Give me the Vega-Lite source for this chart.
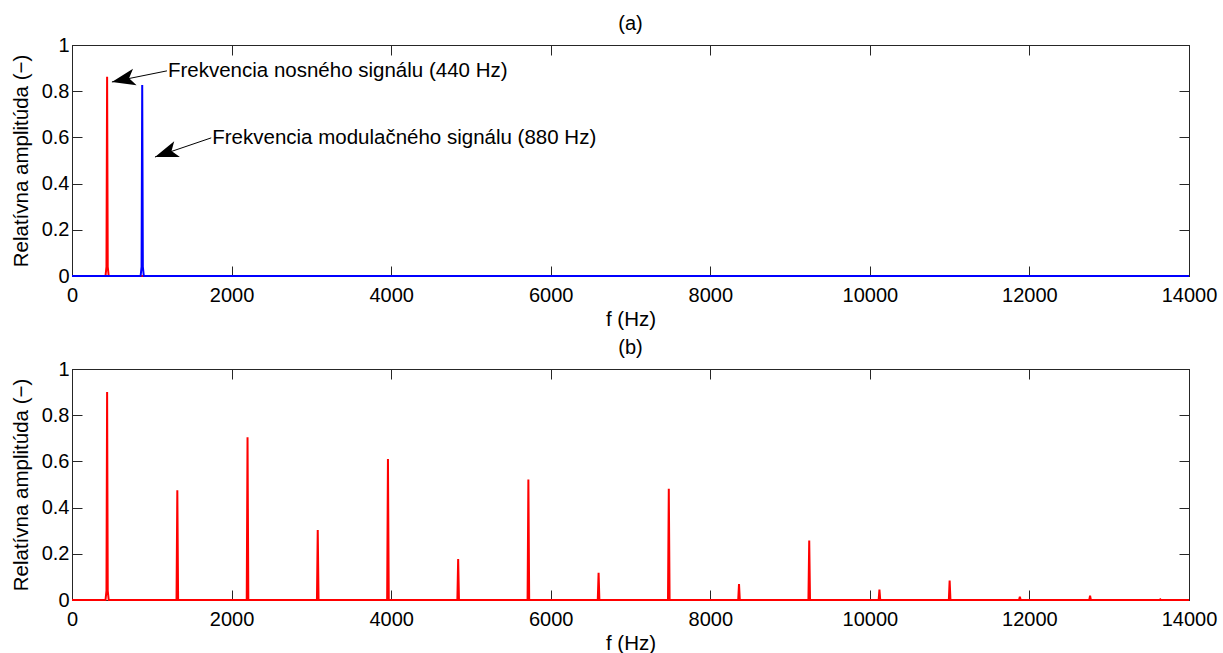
{
  "$schema": "https://vega.github.io/schema/vega-lite/v6.json",
  "padding": {"left": 10, "top": 13, "right": 0, "bottom": 5},
  "bounds": "flush",
  "spacing": 93,
  "config": {
    "font": "Liberation Sans",
    "view": {"stroke": "#262626", "strokeWidth": 1},
    "axis": {
      "labelFont": "Liberation Sans", "labelFontSize": 20, "labelColor": "#000", "labelFlush": false, "labelOverlap": false,
      "titleFont": "Liberation Sans", "titleFontSize": 20.5, "titleFontWeight": "normal", "titleColor": "#000",
      "tickColor": "#262626", "domainColor": "#262626", "tickSize": -10, "grid": false
    },
    "title": {"font": "Liberation Sans", "fontSize": 20, "fontWeight": "normal", "color": "#000", "offset": 1}
  },
  "datasets": {
    "a_red": [
      {"f": 0, "A": 0}, {"f": 420, "A": 0}, {"f": 432, "A": 0.04}, {"f": 440, "A": 0.863},
      {"f": 448, "A": 0.04}, {"f": 460, "A": 0}, {"f": 14000, "A": 0}
    ],
    "a_blue": [
      {"f": 0, "A": 0}, {"f": 860, "A": 0}, {"f": 872, "A": 0.04}, {"f": 880, "A": 0.827},
      {"f": 888, "A": 0.04}, {"f": 900, "A": 0}, {"f": 14000, "A": 0}
    ],
    "ann": [
      {"id": 1, "label": "Frekvencia nosného signálu (440 Hz)", "tx": 1190, "ty": 0.888, "hx": 500, "hy": 0.84},
      {"id": 2, "label": "Frekvencia modulačného signálu (880 Hz)", "tx": 1745, "ty": 0.598, "hx": 1040, "hy": 0.515}
    ],
    "b": [
      {"f": 0, "A": 0},
      {"f": 420, "A": 0}, {"f": 432, "A": 0.04}, {"f": 440, "A": 0.90}, {"f": 448, "A": 0.04}, {"f": 460, "A": 0},
      {"f": 1310, "A": 0}, {"f": 1320, "A": 0.475}, {"f": 1330, "A": 0},
      {"f": 2190, "A": 0}, {"f": 2200, "A": 0.705}, {"f": 2210, "A": 0},
      {"f": 3070, "A": 0}, {"f": 3080, "A": 0.303}, {"f": 3090, "A": 0},
      {"f": 3950, "A": 0}, {"f": 3960, "A": 0.61}, {"f": 3970, "A": 0},
      {"f": 4830, "A": 0}, {"f": 4840, "A": 0.177}, {"f": 4850, "A": 0},
      {"f": 5710, "A": 0}, {"f": 5720, "A": 0.522}, {"f": 5730, "A": 0},
      {"f": 6590, "A": 0}, {"f": 6600, "A": 0.118}, {"f": 6610, "A": 0},
      {"f": 7470, "A": 0}, {"f": 7480, "A": 0.482}, {"f": 7490, "A": 0},
      {"f": 8350, "A": 0}, {"f": 8360, "A": 0.069}, {"f": 8370, "A": 0},
      {"f": 9230, "A": 0}, {"f": 9240, "A": 0.257}, {"f": 9250, "A": 0},
      {"f": 10110, "A": 0}, {"f": 10120, "A": 0.045}, {"f": 10130, "A": 0},
      {"f": 10990, "A": 0}, {"f": 11000, "A": 0.084}, {"f": 11010, "A": 0},
      {"f": 11870, "A": 0}, {"f": 11880, "A": 0.014}, {"f": 11890, "A": 0},
      {"f": 12750, "A": 0}, {"f": 12760, "A": 0.019}, {"f": 12770, "A": 0},
      {"f": 13630, "A": 0}, {"f": 13640, "A": 0.003}, {"f": 13650, "A": 0},
      {"f": 14000, "A": 0}
    ]
  },
  "vconcat": [
    {
      "title": "(a)",
      "width": 1117,
      "height": 231,
      "layer": [
        {
          "data": {"name": "a_red"},
          "mark": {"type": "line", "color": "#ff0000", "strokeWidth": 2},
          "encoding": {
            "x": {"field": "f", "type": "quantitative", "scale": {"domain": [0, 14000]},
                  "axis": {"title": "f (Hz)", "values": [0, 2000, 4000, 6000, 8000, 10000, 12000, 14000], "format": "d", "labelPadding": 19, "titlePadding": 4}},
            "y": {"field": "A", "type": "quantitative", "scale": {"domain": [0, 1]},
                  "axis": {"title": "Relatívna amplitúda (−)", "values": [0, 0.2, 0.4, 0.6, 0.8, 1], "format": "~g", "labelPadding": 13, "titlePadding": 10}}
          }
        },
        {
          "data": {"name": "a_blue"},
          "mark": {"type": "line", "color": "#0000ff", "strokeWidth": 2},
          "encoding": {
            "x": {"field": "f", "type": "quantitative", "scale": {"domain": [0, 14000]},
                  "axis": {"orient": "top", "title": null, "labels": false, "values": [0, 2000, 4000, 6000, 8000, 10000, 12000, 14000]}},
            "y": {"field": "A", "type": "quantitative", "scale": {"domain": [0, 1]},
                  "axis": {"orient": "right", "title": null, "labels": false, "values": [0, 0.2, 0.4, 0.6, 0.8, 1]}}
          }
        },
        {
          "data": {"name": "ann"},
          "mark": {"type": "rule", "color": "#000", "strokeWidth": 1},
          "encoding": {
            "x": {"field": "tx", "type": "quantitative", "axis": null},
            "y": {"field": "ty", "type": "quantitative", "axis": null},
            "x2": {"field": "hx"},
            "y2": {"field": "hy"}
          }
        },
        {
          "data": {"name": "ann"},
          "mark": {"type": "text", "align": "left", "baseline": "middle", "dx": 1, "fontSize": 20.5, "font": "Liberation Sans", "color": "#000"},
          "encoding": {
            "x": {"field": "tx", "type": "quantitative", "axis": null},
            "y": {"field": "ty", "type": "quantitative", "axis": null},
            "text": {"field": "label"}
          }
        },
        {
          "data": {"name": "ann"},
          "transform": [{"filter": "datum.id == 1"}],
          "mark": {"type": "point", "shape": "M0,0 L1,-0.36 L0.75,0 L1,0.36 Z", "filled": true, "color": "#000", "opacity": 1, "size": 2200, "angle": -12.3, "strokeWidth": 0},
          "encoding": {
            "x": {"field": "hx", "type": "quantitative", "axis": null},
            "y": {"field": "hy", "type": "quantitative", "axis": null}
          }
        },
        {
          "data": {"name": "ann"},
          "transform": [{"filter": "datum.id == 2"}],
          "mark": {"type": "point", "shape": "M0,0 L1,-0.36 L0.75,0 L1,0.36 Z", "filled": true, "color": "#000", "opacity": 1, "size": 2200, "angle": -19.7, "strokeWidth": 0},
          "encoding": {
            "x": {"field": "hx", "type": "quantitative", "axis": null},
            "y": {"field": "hy", "type": "quantitative", "axis": null}
          }
        }
      ],
      "resolve": {"axis": {"x": "independent", "y": "independent"}}
    },
    {
      "title": "(b)",
      "width": 1117,
      "height": 231,
      "layer": [
        {
          "data": {"name": "b"},
          "mark": {"type": "line", "color": "#ff0000", "strokeWidth": 2},
          "encoding": {
            "x": {"field": "f", "type": "quantitative", "scale": {"domain": [0, 14000]},
                  "axis": {"title": "f (Hz)", "values": [0, 2000, 4000, 6000, 8000, 10000, 12000, 14000], "format": "d", "labelPadding": 19, "titlePadding": 4}},
            "y": {"field": "A", "type": "quantitative", "scale": {"domain": [0, 1]},
                  "axis": {"title": "Relatívna amplitúda (−)", "values": [0, 0.2, 0.4, 0.6, 0.8, 1], "format": "~g", "labelPadding": 13, "titlePadding": 10}}
          }
        },
        {
          "data": {"name": "b"},
          "mark": {"type": "point", "opacity": 0},
          "encoding": {
            "x": {"field": "f", "type": "quantitative", "scale": {"domain": [0, 14000]},
                  "axis": {"orient": "top", "title": null, "labels": false, "values": [0, 2000, 4000, 6000, 8000, 10000, 12000, 14000]}},
            "y": {"field": "A", "type": "quantitative", "scale": {"domain": [0, 1]},
                  "axis": {"orient": "right", "title": null, "labels": false, "values": [0, 0.2, 0.4, 0.6, 0.8, 1]}}
          }
        }
      ],
      "resolve": {"axis": {"x": "independent", "y": "independent"}}
    }
  ]
}
